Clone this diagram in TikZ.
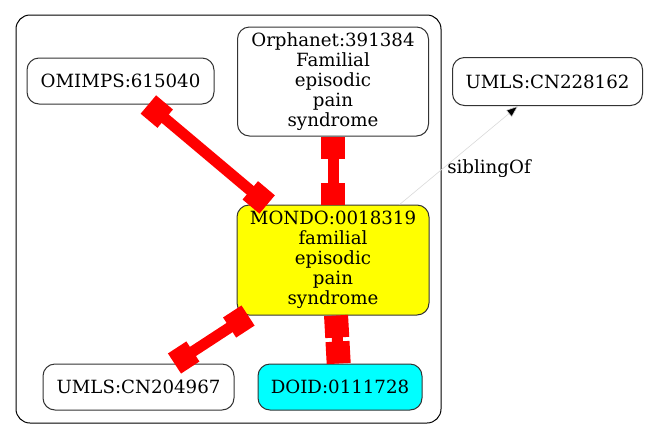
\documentclass[tikz,border=0pt]{standalone}
\usepackage{fontspec}
\setmainfont{DejaVu Serif}
\usetikzlibrary{arrows.meta}
\definecolor{gvyellow}{RGB}{255,255,0}
\definecolor{gvcyan}{RGB}{0,255,255}
\definecolor{gvred}{RGB}{255,0,0}
\begin{document}
\begin{tikzpicture}[x=1pt,y=-1pt,
  every node/.style={font=\fontsize{18.2}{20}\selectfont},
  term/.style={draw=black!80,line width=1pt,rounded corners=12pt,inner sep=0pt,align=center},
  rededge/.style={draw=gvred,line width=11pt,{Rectangle[length=22pt,width=24pt]}-{Rectangle[length=22pt,width=24pt]}},
  sibedge/.style={draw=black!15,line width=0.6pt,-{Triangle[length=12pt,width=9pt,fill=black]}},
  cluster/.style={draw=black,line width=1pt,rounded corners=14pt}]
\useasboundingbox (0,0) rectangle (649,440);
\draw[cluster] (16,15) rectangle (441,423);
\node[term,minimum width=187pt,minimum height=46pt] (omim) at (120.5,81) {OMIMPS:615040};
\node[term,minimum width=191pt,minimum height=109pt] (orpha) at (333,81.5) {Orphanet:391384\\Familial\\episodic\\pain\\syndrome};
\node[term,minimum width=190pt,minimum height=48pt] (umlsa) at (547.5,81.5) {UMLS:CN228162};
\node[term,fill=gvyellow,minimum width=192pt,minimum height=110pt] (mondo) at (333,260) {MONDO:0018319\\familial\\episodic\\pain\\syndrome};
\node[term,minimum width=191pt,minimum height=46pt] (umlsb) at (138.5,387) {UMLS:CN204967};
\node[term,fill=gvcyan,minimum width=164pt,minimum height=46pt] (doid) at (340,387) {DOID:0111728};
\draw[rededge] (omim) -- (mondo);
\draw[rededge] (orpha) -- (mondo);
\draw[rededge] (mondo) -- (umlsb);
\draw[rededge] (mondo) -- (doid);
\draw[sibedge] (mondo) -- (umlsa);
\node (sib) at (489,169) {siblingOf};
\end{tikzpicture}
\end{document}
